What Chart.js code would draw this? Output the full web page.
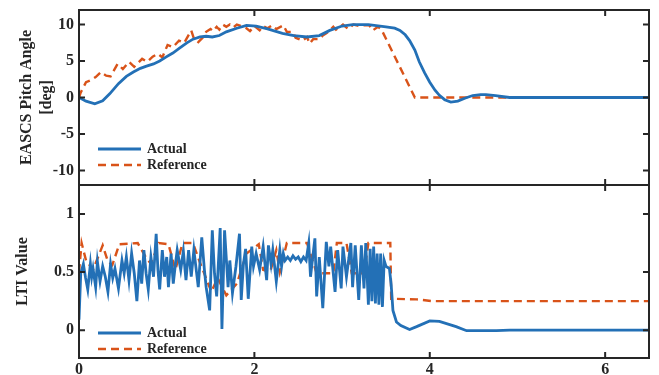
<!DOCTYPE html>
<html>
<head>
<meta charset="utf-8">
<script src="https://cdn.jsdelivr.net/npm/chart.js@4/dist/chart.umd.min.js"></script>
<style>
  body { margin: 0; background: #fff; }
  #wrap { position: relative; width: 659px; height: 375px; }
  #pitchChart { position: absolute; left: 0; top: 0; }
  #ltiChart { position: absolute; left: 0; top: 180px; }
</style>
</head>
<body>
<div id="wrap">
  <canvas id="pitchChart" width="659" height="190"></canvas>
  <canvas id="ltiChart" width="659" height="195"></canvas>
</div>
<script>
// time axis ticks
let xTicks = [0, 2, 4, 6];
let pitchTicks = [-10, -5, 0, 5, 10];
let ltiTicks = [0, 0.5, 1];
let seriesNames = ['Actual', 'Reference'];
let cores = ['#2370B6', '#D95319'];

// EASCS pitch angle [deg]
let tPitchAct = [0, 0.08, 0.18, 0.27, 0.35, 0.45, 0.54, 0.62, 0.7, 0.77,
  0.85, 0.92, 1.0, 1.07, 1.15, 1.23, 1.3, 1.38, 1.45, 1.52,
  1.6, 1.68, 1.8, 1.91, 2.02, 2.15, 2.32, 2.45, 2.6, 2.74,
  2.86, 3.0, 3.12, 3.3, 3.5, 3.6, 3.66, 3.72, 3.77, 3.83,
  3.88, 3.94, 4.0, 4.06, 4.11, 4.17, 4.24, 4.32, 4.4, 4.49,
  4.58, 4.64, 4.75, 4.91, 5.2, 5.6, 6.0, 6.5];
let pitchAct = [0, -0.5, -0.87, -0.45, 0.5, 1.9, 2.9, 3.5, 4.0, 4.3,
  4.6, 5.0, 5.6, 6.1, 6.8, 7.5, 8.0, 8.3, 8.4, 8.3,
  8.5, 9.0, 9.5, 9.9, 9.8, 9.4, 8.8, 8.5, 8.3, 8.5,
  9.2, 9.8, 10.0, 10.0, 9.7, 9.5, 9.2, 8.6, 7.8, 6.5,
  4.9, 3.4, 2.1, 1.0, 0.3, -0.3, -0.64, -0.5, -0.1, 0.27,
  0.4, 0.4, 0.25, 0, 0, 0, 0, 0];

let tPitchRef = [0, 0.02, 0.08, 0.14, 0.19, 0.25, 0.31, 0.36, 0.44, 0.5,
  0.57, 0.63, 0.72, 0.78, 0.84, 0.9, 0.95, 1.01, 1.07, 1.14,
  1.2, 1.28, 1.31, 1.36, 1.41, 1.45, 1.5, 1.53, 1.57, 1.6,
  1.64, 1.68, 1.72, 1.76, 1.8, 1.85, 1.91, 1.95, 2.0, 2.06,
  2.1, 2.15, 2.2, 2.25, 2.33, 2.37, 2.44, 2.47, 2.55, 2.6,
  2.63, 2.67, 2.74, 2.78, 2.82, 2.86, 2.9, 2.93, 3.01, 3.07,
  3.13, 3.2, 3.25, 3.31, 3.35, 3.41, 3.45, 3.83, 4.5, 5.5, 6.5];
let pitchRef = [0, 0.7, 2.1, 2.4, 2.8, 3.5, 3.0, 2.9, 4.6, 3.9,
  4.9, 4.2, 5.3, 4.9, 5.6, 6.0, 5.5, 7.2, 6.9, 7.8,
  7.5, 9.2, 8.1, 7.6, 8.2, 9.0, 9.4, 9.1, 9.7, 9.3,
  10.0, 9.7, 10.0, 9.6, 10.0, 9.8, 9.5, 9.1, 9.8, 9.2,
  9.8, 9.5, 9.9, 9.4, 9.9, 9.0, 9.0, 8.2, 7.8, 8.3,
  7.4, 8.0, 8.0, 8.5, 8.8, 9.2, 9.7, 9.3, 10.0, 9.4,
  10.0, 9.8, 9.9, 9.9, 9.2, 9.7, 9.3, 0, 0, 0, 0];

// LTI value
let tLtiAct = [0, 0.02, 0.05, 0.075, 0.1, 0.13, 0.145, 0.16, 0.19, 0.21,
  0.24, 0.27, 0.3, 0.33, 0.36, 0.385, 0.41, 0.45, 0.49, 0.515,
  0.54, 0.57, 0.6, 0.63, 0.66, 0.69, 0.715, 0.74, 0.765, 0.79,
  0.82, 0.85, 0.88, 0.9, 0.92, 0.95, 0.975, 1.0, 1.02, 1.05,
  1.075, 1.1, 1.12, 1.16, 1.19, 1.22, 1.25, 1.28, 1.31, 1.34,
  1.36, 1.4, 1.43, 1.45, 1.49, 1.52, 1.545, 1.57, 1.61, 1.63,
  1.66, 1.7, 1.72, 1.75, 1.79, 1.83, 1.85, 1.875, 1.9, 1.93,
  1.97, 1.99, 2.02, 2.06, 2.1, 2.14, 2.16, 2.19, 2.21, 2.25,
  2.29, 2.31, 2.33, 2.35, 2.38, 2.41, 2.44, 2.47, 2.5, 2.53,
  2.56, 2.59, 2.62, 2.64, 2.69, 2.71, 2.74, 2.78, 2.82, 2.85,
  2.87, 2.92, 2.95, 2.99, 3.01, 3.05, 3.1, 3.12, 3.15, 3.19,
  3.22, 3.25, 3.27, 3.3, 3.32, 3.34, 3.36, 3.38, 3.4, 3.42,
  3.44, 3.46, 3.48, 3.5, 3.54, 3.56, 3.58, 3.62, 3.67, 3.77,
  3.85, 4.0, 4.11, 4.3, 4.42, 4.76, 4.91, 6.5];
let ltiAct = [0.09, 0.49, 0.57, 0.45, 0.35, 0.57, 0.46, 0.53, 0.37, 0.59,
  0.42, 0.55, 0.46, 0.33, 0.57, 0.45, 0.53, 0.36, 0.6, 0.49,
  0.63, 0.43, 0.66, 0.49, 0.25, 0.6, 0.4, 0.69, 0.49, 0.35,
  0.63, 0.46, 0.83, 0.52, 0.35, 0.69, 0.46, 0.63, 0.37, 0.66,
  0.4, 0.57, 0.69, 0.52, 0.68, 0.43, 0.69, 0.46, 0.69, 0.5,
  0.37, 0.8, 0.52, 0.37, 0.17, 0.86, 0.49, 0.29, 0.88, 0.01,
  0.86, 0.37, 0.6, 0.32, 0.55, 0.83, 0.26, 0.57, 0.7, 0.27,
  0.72, 0.55, 0.66, 0.52, 0.72, 0.43, 0.73, 0.57, 0.69, 0.42,
  0.69, 0.55, 0.66, 0.6, 0.63, 0.6, 0.64, 0.61, 0.63, 0.59,
  0.63, 0.6, 0.75, 0.46, 0.79, 0.29, 0.63, 0.19, 0.76, 0.55,
  0.72, 0.33, 0.69, 0.36, 0.72, 0.46, 0.75, 0.37, 0.73, 0.26,
  0.73, 0.36, 0.75, 0.22, 0.7, 0.25, 0.72, 0.23, 0.66, 0.22,
  0.66, 0.2, 0.6, 0.55, 0.53, 0.39, 0.17, 0.07, 0.04, 0.005,
  0.03, 0.08, 0.075, 0.03, -0.005, -0.005, 0, 0];

let tLtiRef = [0, 0.03, 0.08, 0.16, 0.27, 0.33, 0.38, 0.46, 0.67, 0.76,
  0.82, 0.91, 1.02, 1.1, 1.18, 1.3, 1.38, 1.51, 1.58, 1.68,
  1.8, 1.91, 2.05, 2.1, 2.18, 2.25, 2.29, 2.37, 2.6, 2.71,
  2.9, 2.94, 3.05, 3.11, 3.25, 3.3, 3.55, 3.56, 3.85, 4.03, 6.5];
let ltiRef = [0.5, 0.75, 0.6, 0.52, 0.73, 0.59, 0.56, 0.74, 0.75, 0.63,
  0.57, 0.75, 0.74, 0.52, 0.75, 0.75, 0.58, 0.33, 0.45, 0.3,
  0.4, 0.66, 0.74, 0.52, 0.5, 0.69, 0.5, 0.75, 0.75, 0.49,
  0.49, 0.75, 0.75, 0.49, 0.49, 0.75, 0.75, 0.27, 0.265, 0.25, 0.25];

let fonte = '"Liberation Serif", "Times New Roman", serif';
let corTexto = '#262626';

function pontos(ts, vs) {
  return ts.map((t, i) => ({ x: t, y: vs[i] }));
}

// box around the axes with inward ticks on all four sides
let moldura = {
  id: 'moldura',
  afterDatasetsDraw(chart) {
    let { ctx, chartArea: a, scales: { x, y } } = chart;
    ctx.save();
    ctx.strokeStyle = corTexto;
    ctx.lineWidth = 2;
    ctx.beginPath();
    x.ticks.forEach(t => {
      let px = x.getPixelForValue(t.value);
      ctx.moveTo(px, a.top); ctx.lineTo(px, a.top + 6);
      ctx.moveTo(px, a.bottom); ctx.lineTo(px, a.bottom - 6);
    });
    y.ticks.forEach(t => {
      let py = y.getPixelForValue(t.value);
      ctx.moveTo(a.left, py); ctx.lineTo(a.left + 6, py);
      ctx.moveTo(a.right, py); ctx.lineTo(a.right - 6, py);
    });
    ctx.stroke();
    ctx.strokeRect(a.left, a.top, a.right - a.left, a.bottom - a.top);
    ctx.restore();
  }
};

// legend drawn inside the plot, lower left, no box
let legendaInterna = {
  id: 'legendaInterna',
  afterDraw(chart, args, opts) {
    let { ctx, chartArea: a } = chart;
    ctx.save();
    ctx.font = 'bold 14px ' + fonte;
    ctx.textBaseline = 'middle';
    chart.data.datasets.forEach((ds, i) => {
      let yy = a.bottom - opts.bottom + i * 16;
      ctx.strokeStyle = ds.borderColor;
      ctx.lineWidth = ds.borderWidth;
      ctx.setLineDash(ds.borderDash || []);
      ctx.beginPath();
      ctx.moveTo(a.left + 19, yy);
      ctx.lineTo(a.left + 62, yy);
      ctx.stroke();
      ctx.setLineDash([]);
      ctx.fillStyle = corTexto;
      ctx.fillText(ds.label, a.left + 68, yy);
    });
    ctx.restore();
  }
};

function montarDatasets(act, ref) {
  return [{
    label: seriesNames[0],
    data: act,
    borderColor: cores[0],
    borderWidth: 2.8,
    pointRadius: 0,
    tension: 0
  }, {
    label: seriesNames[1],
    data: ref,
    borderColor: cores[1],
    borderWidth: 2.4,
    borderDash: [8, 5],
    pointRadius: 0,
    tension: 0
  }];
}

function eixoX(mostrarRotulos, altura) {
  return {
    type: 'linear',
    min: 0,
    max: 6.5,
    afterBuildTicks: s => { s.ticks = xTicks.map(v => ({ value: v })); },
    afterFit: s => { s.height = altura; s.paddingLeft = 0; s.paddingRight = 0; },
    grid: { display: false, drawTicks: false },
    border: { display: false },
    ticks: {
      display: mostrarRotulos,
      padding: 2,
      color: corTexto,
      font: { family: fonte, size: 16, weight: 'bold' },
      callback: v => String(v)
    }
  };
}

function eixoY(min, max, marcas, titulo, padTitulo) {
  return {
    min: min,
    max: max,
    afterBuildTicks: s => { s.ticks = marcas.map(v => ({ value: v })); },
    afterFit: s => { s.width = 79; s.paddingTop = 0; s.paddingBottom = 0; },
    grid: { display: false, drawTicks: false },
    border: { display: false },
    ticks: {
      padding: 5,
      color: corTexto,
      font: { family: fonte, size: 16, weight: 'bold' },
      callback: v => String(v)
    },
    title: {
      display: true,
      text: titulo,
      color: corTexto,
      padding: { top: padTitulo, bottom: 0 },
      font: { family: fonte, size: 16, weight: 'bold', lineHeight: 1.25 }
    }
  };
}

let pitchChart = new Chart(document.getElementById('pitchChart').getContext('2d'), {
  type: 'line',
  data: { datasets: montarDatasets(pontos(tPitchAct, pitchAct), pontos(tPitchRef, pitchRef)) },
  plugins: [moldura, legendaInterna],
  options: {
    responsive: false,
    animation: false,
    layout: { padding: { top: 10, right: 10, left: 0, bottom: 0 } },
    scales: {
      x: eixoX(false, 5),
      y: eixoY(-12, 12, pitchTicks, ['EASCS Pitch Angle', '[deg]'], 17)
    },
    plugins: {
      legend: { display: false },
      tooltip: { enabled: false },
      legendaInterna: { bottom: 36 }
    }
  }
});

let ltiChart = new Chart(document.getElementById('ltiChart').getContext('2d'), {
  type: 'line',
  data: { datasets: montarDatasets(pontos(tLtiAct, ltiAct), pontos(tLtiRef, ltiRef)) },
  plugins: [moldura, legendaInterna],
  options: {
    responsive: false,
    animation: false,
    layout: { padding: { top: 5, right: 10, left: 0, bottom: 0 } },
    scales: {
      x: eixoX(true, 17),
      y: eixoY(-0.24, 1.25, ltiTicks, 'LTI Value', 13)
    },
    plugins: {
      legend: { display: false },
      tooltip: { enabled: false },
      legendaInterna: { bottom: 25 }
    }
  }
});
</script>
</body>
</html>
